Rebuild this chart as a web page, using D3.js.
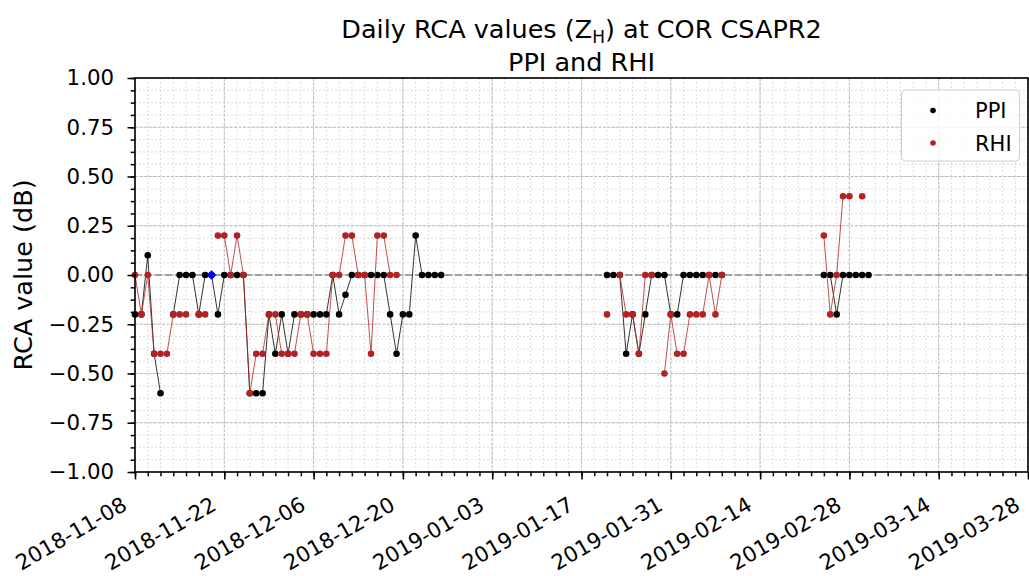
<!DOCTYPE html>
<html>
<head>
<meta charset="utf-8">
<script src="https://cdn.jsdelivr.net/npm/d3@7"></script>
<style>
  body { margin: 0; background: #fff; }
  text { font-family: "DejaVu Sans", sans-serif; fill: #000; }
</style>
</head>
<body>
<svg id="chart"></svg>
<script>
// daily RCA values, one entry per day, null = no value that day
var block1Start = "2018-11-08";
var ppiBlock1 = [-0.2, -0.2, 0.1, -0.4, -0.6, null, -0.2, 0, 0, 0,
                 -0.2, 0, 0, -0.2, 0, 0, 0, 0, -0.6, -0.6,
                 -0.6, -0.2, -0.4, -0.2, -0.4, -0.2, -0.2, -0.2, -0.2, -0.2,
                 -0.2, 0, -0.2, -0.1, 0, 0, 0, 0, 0, 0,
                 -0.2, -0.4, -0.2, -0.2, 0.2, 0, 0, 0, 0];
var rhiBlock1 = [0, -0.2, 0, -0.4, -0.4, -0.4, -0.2, -0.2, -0.2, null,
                 -0.2, -0.2, null, 0.2, 0.2, 0, 0.2, 0, -0.6, -0.4,
                 -0.4, -0.2, -0.2, -0.4, -0.4, -0.4, -0.2, -0.2, -0.4, -0.4,
                 -0.4, 0, 0, 0.2, 0.2, 0, 0, -0.4, 0.2, 0.2,
                 0, 0];

var block2Start = "2019-01-21";
var ppiBlock2 = [0, 0, 0, -0.4, -0.2, -0.4, -0.2, 0, 0, 0,
                 -0.2, -0.2, 0, 0, 0, 0, 0, 0, 0];
var rhiBlock2 = [-0.2, null, 0, -0.2, -0.2, -0.4, 0, 0, null, -0.5,
                 -0.2, -0.4, -0.4, -0.2, -0.2, -0.2, 0, -0.2, 0];

var block3Start = "2019-02-24";
var ppiBlock3 = [0, 0, -0.2, 0, 0, 0, 0, 0];
var rhiBlock3 = [0.2, -0.2, 0, 0.4, 0.4, null, 0.4];

// blue diamond marker
var markDates = ["2018-11-20"];
var markValues = [0];

var xStart = "2018-11-08", xEnd = "2019-03-28";
var yTicks = [-1, -0.75, -0.5, -0.25, 0, 0.25, 0.5, 0.75, 1];

var W = 1029, H = 576;
var plotL = 135, plotR = 1028, plotT = 78, plotB = 472;

var svg = d3.select("#chart").attr("width", W).attr("height", H);
var parse = d3.utcParse("%Y-%m-%d");
var fmt = d3.utcFormat("%Y-%m-%d");

var x = d3.scaleUtc().domain([parse(xStart), parse(xEnd)]).range([plotL, plotR]);
var y = d3.scaleLinear().domain([-1, 1]).range([plotB, plotT]);

function toPoints(start, vals) {
    var s = parse(start);
    return vals.map(function (v, i) { return { date: d3.utcDay.offset(s, i), v: v }; });
}
var ppi = [toPoints(block1Start, ppiBlock1), toPoints(block2Start, ppiBlock2), toPoints(block3Start, ppiBlock3)];
var rhi = [toPoints(block1Start, rhiBlock1), toPoints(block2Start, rhiBlock2), toPoints(block3Start, rhiBlock3)];

var majorX = d3.utcDays(parse(xStart), d3.utcDay.offset(parse(xEnd), 1), 14);
var minorX = d3.utcDays(parse(xStart), d3.utcDay.offset(parse(xEnd), 1), 2);
var minorY = d3.range(-1, 1.0001, 0.0625);

// grid
var grid = svg.append("g");
grid.selectAll(".gx").data(minorX).enter().append("line")
    .attr("x1", d => x(d)).attr("x2", d => x(d)).attr("y1", plotT).attr("y2", plotB)
    .attr("stroke", "#d4d4d4").attr("stroke-width", 0.8).attr("stroke-dasharray", "2,2");
grid.selectAll(".gy").data(minorY).enter().append("line")
    .attr("y1", d => y(d)).attr("y2", d => y(d)).attr("x1", plotL).attr("x2", plotR)
    .attr("stroke", "#d4d4d4").attr("stroke-width", 0.8).attr("stroke-dasharray", "2,2");
grid.selectAll(".gX").data(majorX).enter().append("line")
    .attr("x1", d => x(d)).attr("x2", d => x(d)).attr("y1", plotT).attr("y2", plotB)
    .attr("stroke", "#bdbdbd").attr("stroke-width", 1).attr("stroke-dasharray", "3,1.5");
grid.selectAll(".gY").data(yTicks).enter().append("line")
    .attr("y1", d => y(d)).attr("y2", d => y(d)).attr("x1", plotL).attr("x2", plotR)
    .attr("stroke", "#bdbdbd").attr("stroke-width", 1).attr("stroke-dasharray", "3,1.5");

// zero line
svg.append("line").attr("x1", plotL).attr("x2", plotR).attr("y1", y(0)).attr("y2", y(0))
    .attr("stroke", "#8c8c8c").attr("stroke-width", 1.5).attr("stroke-dasharray", "7,3");

var line = d3.line().defined(d => d.v != null).x(d => x(d.date)).y(d => y(d.v));

function drawSeries(blocks, color) {
    var g = svg.append("g");
    blocks.forEach(function (pts) {
        g.append("path").datum(pts).attr("d", line)
            .attr("fill", "none").attr("stroke", color).attr("stroke-width", 0.8);
        g.selectAll(null).data(pts.filter(d => d.v != null)).enter().append("circle")
            .attr("cx", d => x(d.date)).attr("cy", d => y(d.v)).attr("r", 3.3)
            .attr("fill", color);
    });
}
drawSeries(ppi, "#000000");
drawSeries(rhi, "#b22222");

svg.selectAll(".mark").data(markDates).enter().append("path")
    .attr("d", d3.symbol().type(d3.symbolDiamond2).size(60))
    .attr("transform", (d, i) => "translate(" + x(parse(d)) + "," + y(markValues[i]) + ")")
    .attr("fill", "#0000ff");

// frame
svg.append("rect").attr("x", plotL).attr("y", plotT).attr("width", plotR - plotL).attr("height", plotB - plotT)
    .attr("fill", "none").attr("stroke", "#000").attr("stroke-width", 1.6);

// axes
var xAxis = d3.axisBottom(x).tickValues(majorX).tickFormat(fmt).tickSize(7.5).tickSizeOuter(0);
var gx = svg.append("g").attr("transform", "translate(0," + plotB + ")").call(xAxis);
gx.select(".domain").remove();
gx.selectAll("text").attr("font-size", 21.3).attr("text-anchor", "end")
    .attr("dy", null).attr("y", 0)
    .attr("transform", "translate(-7,37) rotate(-30)");
svg.append("g").attr("transform", "translate(0," + plotB + ")")
    .call(d3.axisBottom(x).tickValues(minorX).tickFormat("").tickSize(4.3).tickSizeOuter(0))
    .select(".domain").remove();

var yAxis = d3.axisLeft(y).tickValues(yTicks).tickFormat(d3.format(".2f")).tickSize(7.5).tickSizeOuter(0);
var gy = svg.append("g").attr("transform", "translate(" + plotL + ",0)").call(yAxis);
gy.select(".domain").remove();
gy.selectAll("text").attr("font-size", 21.3).attr("x", -21).text(d => d3.format(".2f")(d).replace("-", "\u2212"));
svg.append("g").attr("transform", "translate(" + plotL + ",0)")
    .call(d3.axisLeft(y).tickValues(minorY).tickFormat("").tickSize(4.3).tickSizeOuter(0))
    .select(".domain").remove();
svg.selectAll(".tick line").attr("stroke", "#000").attr("stroke-width", 1.5);

// labels
svg.append("text").attr("transform", "translate(32," + y(0) + ") rotate(-90)")
    .attr("text-anchor", "middle").attr("font-size", 25.5).text("RCA value (dB)");

var title = svg.append("text").attr("x", (plotL + plotR) / 2).attr("y", 38)
    .attr("text-anchor", "middle").attr("font-size", 25.5);
title.append("tspan").text("Daily RCA values (Z");
title.append("tspan").attr("font-size", 17).attr("dy", 5).text("H");
title.append("tspan").attr("dy", -5).text(") at COR CSAPR2");
svg.append("text").attr("x", (plotL + plotR) / 2).attr("y", 71)
    .attr("text-anchor", "middle").attr("font-size", 25.5).text("PPI and RHI");

// legend
var lg = svg.append("g");
lg.append("rect").attr("x", 901.5).attr("y", 90).attr("width", 118).attr("height", 71).attr("rx", 4)
    .attr("fill", "#fff").attr("fill-opacity", 0.8).attr("stroke", "#d0d0d0").attr("stroke-width", 1);
var items = [["PPI", "#000000"], ["RHI", "#b22222"]];
items.forEach(function (it, i) {
    var cy = 110.5 + i * 32.5;
    lg.append("circle").attr("cx", 933).attr("cy", cy).attr("r", 2.8).attr("fill", it[1]);
    lg.append("text").attr("x", 975).attr("y", cy + 7.5).attr("font-size", 21).text(it[0]);
});
</script>
</body>
</html>
